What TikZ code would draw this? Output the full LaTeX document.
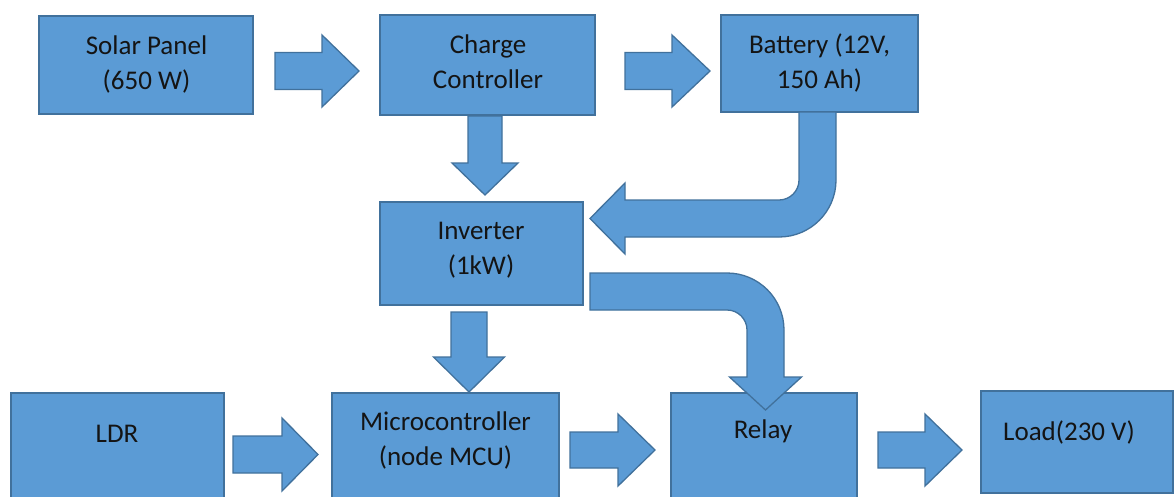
\documentclass[tikz,border=0pt]{standalone}
\usepackage{fontspec}
\setmainfont{Carlito}
\definecolor{boxfill}{HTML}{5B9BD5}
\definecolor{boxline}{HTML}{41719C}
\definecolor{txt}{HTML}{141414}
\newcommand\tstrut{\rule{0pt}{22pt}}
\newcommand\mybox[5]{\node[blockbox, minimum width={(#4-#2)*1pt}, minimum height={(#5-#3)*1pt}] (#1) at ({(#2+#4)/2},{(#3+#5)/2}) {};}
% horizontal block arrow: x0, x head base, x tip, y centre, body half, head half
\newcommand\hblk[6]{\draw[blockarrow] (#1,#4-#5) -- (#2,#4-#5) -- (#2,#4-#6) -- (#3,#4) -- (#2,#4+#6) -- (#2,#4+#5) -- (#1,#4+#5) -- cycle;}
% vertical block arrow: y0, y head base, y tip, x centre, body half, head half
\newcommand\vblk[6]{\draw[blockarrow] (#4-#5,#1) -- (#4-#5,#2) -- (#4-#6,#2) -- (#4,#3) -- (#4+#6,#2) -- (#4+#5,#2) -- (#4+#5,#1) -- cycle;}
\tikzset{
  blockbox/.style={draw=boxline, fill=boxfill, line width=1.3pt, inner sep=0pt},
  blockarrow/.style={draw=boxline, fill=boxfill, line width=1.3pt, line join=miter},
  lbl/.style={font=\fontsize{27}{35}\selectfont, align=center, inner sep=0pt, anchor=north, text=txt},
}
\begin{document}
\begin{tikzpicture}[x=1pt,y=-1pt]
\useasboundingbox (0,0) rectangle (1174,496);
\fill[white] (0,0) rectangle (1174,496);
\clip (0,0) rectangle (1174,496);
% boxes
\mybox{solar}{39}{16}{253}{114}
\mybox{charge}{380}{15}{595}{115}
\mybox{battery}{721}{15}{918}{112}
\mybox{inverter}{380}{202}{583}{305}
\mybox{ldr}{11}{393}{224}{505}
\mybox{micro}{332}{393}{559}{505}
\mybox{relay}{671}{393}{857}{505}
\mybox{load}{981}{391}{1173}{493}
% labels
\node[lbl] (solart) at (146.5,{54-22}) {\tstrut Solar Panel\\(650 W)};
\node[lbl] (charget) at (488,{53-22}) {\tstrut Charge\\Controller};
\node[lbl] (batteryt) at (819.5,{53-22}) {\tstrut Battery (12V,\\150 Ah)};
\node[lbl] (invertert) at (481,{239-22}) {\tstrut Inverter\\(1kW)};
\node[lbl] (ldrt) at (117,{442-22}) {\tstrut LDR};
\node[lbl] (microt) at (445.5,{430-22}) {\tstrut Microcontroller\\(node MCU)};
\node[lbl] (relayt) at (763,{438-22}) {\tstrut Relay};
\node[lbl, anchor=north west] (loadt) at (1003,{440-22}) {\tstrut Load(230 V)};
% straight block arrows
\hblk{275}{322}{359}{71}{18.5}{36}
\hblk{625}{672}{710}{71}{18.5}{36}
\hblk{233}{282}{318}{454.5}{18.5}{36.5}
\hblk{570}{618}{655}{450}{18}{36}
\hblk{878}{925}{962}{450}{18}{36}
\vblk{116}{163}{195}{485}{17}{33}
\vblk{312}{357}{392}{469}{18}{35.5}
% curved block arrows
\draw[blockarrow] (799,112) -- (836,112) -- (836,180)
  .. controls (836,211.5) and (810.5,237) .. (779,237)
  -- (625,237) -- (625,254) -- (590,218.5) -- (625,183) -- (625,200) -- (779,200)
  .. controls (790,200) and (799,191) .. (799,180) -- cycle;
\draw[blockarrow] (590,273) -- (727,273)
  .. controls (758.5,273) and (784,298.5) .. (784,330)
  -- (784,377) -- (801.5,377) -- (765.5,410) -- (729.5,377) -- (747,377) -- (747,330)
  .. controls (747,319) and (738,310) .. (727,310) -- (590,310) -- cycle;
\end{tikzpicture}
\end{document}
